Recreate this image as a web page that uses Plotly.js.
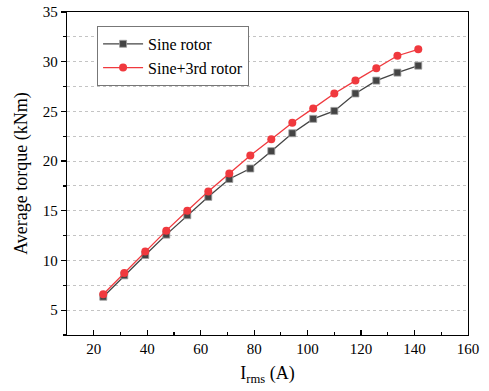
<!DOCTYPE html>
<html>
<head>
<meta charset="utf-8">
<script src="https://cdn.plot.ly/plotly-3.0.1.min.js"></script>
<style>
html,body{margin:0;padding:0;background:#fff}
#chart{width:489px;height:391px}
</style>
</head>
<body>
<div id="chart"></div>
<script>
var current = [23.57, 31.43, 39.28, 47.14, 55.0, 62.85, 70.71, 78.57, 86.42, 94.28, 102.1, 110.0, 117.9, 125.7, 133.6, 141.4];
var sineRotor = [6.35, 8.5, 10.55, 12.6, 14.55, 16.4, 18.2, 19.25, 21.0, 22.8, 24.25, 25.05, 26.8, 28.1, 28.9, 29.6];
var sine3rdRotor = [6.6, 8.75, 10.9, 13.0, 15.0, 16.95, 18.75, 20.55, 22.2, 23.85, 25.3, 26.8, 28.1, 29.35, 30.6, 31.25];
var seriesNames = ["Sine rotor", "Sine+3rd rotor"];

var font = "Liberation Serif, Times New Roman, serif";
var traces = [
  {x: current, y: sineRotor, name: seriesNames[0], mode: "lines+markers",
   line: {color: "#444444", width: 1.3},
   marker: {symbol: "square", size: 7, color: "#444444", line: {color: "#a0a0a0", width: 0.8}}},
  {x: current, y: sine3rdRotor, name: seriesNames[1], mode: "lines+markers",
   line: {color: "#f0393e", width: 1.3},
   marker: {symbol: "circle", size: 8, color: "#f0393e", line: {color: "#f0393e", width: 0}}}
];
var layout = {
  width: 489, height: 391,
  margin: {l: 67, r: 21, t: 12, b: 56},
  paper_bgcolor: "#fff", plot_bgcolor: "#fff",
  font: {family: font, size: 15, color: "#000"},
  showlegend: true,
  legend: {x: 0.075, y: 0.957, xanchor: "left", yanchor: "top",
           bordercolor: "#777", borderwidth: 1, bgcolor: "#fff",
           font: {family: font, size: 16, color: "#000"},
           tracegroupgap: 0, itemwidth: 40},
  xaxis: {range: [10, 160], tickvals: [20,40,60,80,100,120,140,160],
          ticks: "inside", ticklen: 5, tickwidth: 1.2, tickcolor: "#000",
          showline: true, linecolor: "#000", linewidth: 1.3, mirror: true,
          showgrid: false, zeroline: false,
          minor: {tickvals: [30,50,70,90,110,130,150], ticks: "inside", ticklen: 3, tickcolor: "#000", showgrid: false},
          tickfont: {family: font, size: 15},
          title: {text: "I<sub>rms</sub> (A)", font: {family: font, size: 18}, standoff: 10}},
  yaxis: {range: [2.5, 35], dtick: 5, tick0: 0,
          ticks: "outside", ticklen: 5, tickwidth: 1.2, tickcolor: "#000",
          showline: true, linecolor: "#000", linewidth: 1.3, mirror: true,
          showgrid: true, gridcolor: "#c4c4c4", griddash: "dot", gridwidth: 1,
          zeroline: false,
          minor: {dtick: 2.5, tick0: 0, ticks: "outside", ticklen: 3, tickcolor: "#000",
                  showgrid: true, gridcolor: "#c4c4c4", griddash: "dot", gridwidth: 1},
          tickfont: {family: font, size: 15},
          title: {text: "Average torque (kNm)", font: {family: font, size: 18}, standoff: 10}}
};
Plotly.newPlot("chart", traces, layout, {displayModeBar: false, staticPlot: true});
</script>
</body>
</html>
